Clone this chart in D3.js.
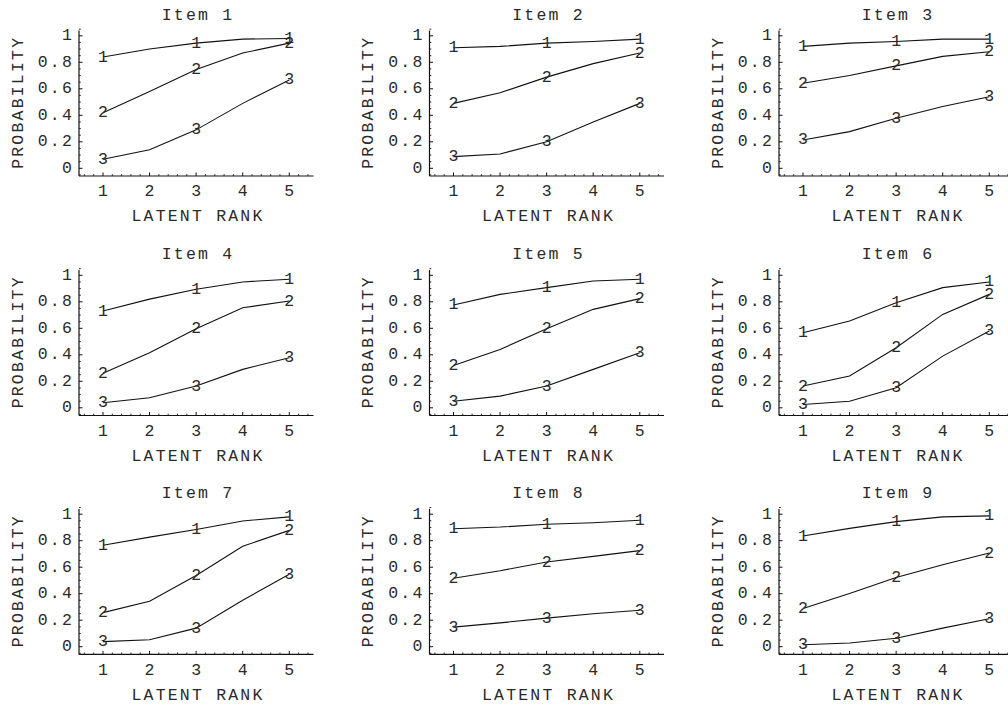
<!DOCTYPE html>
<html>
<head>
<meta charset="utf-8">
<script src="https://cdn.jsdelivr.net/npm/d3@7"></script>
<style>
  html, body { margin: 0; padding: 0; background: #fff; }
  svg { display: block; }
  text { font-family: "Liberation Mono", "Courier New", monospace; fill: #2a2a2a; }
</style>
</head>
<body>
<svg id="chart" width="1008" height="709"></svg>
<script>
// ---- data ----
const ranks = [1, 2, 3, 4, 5];
const itemNames = ["Item 1", "Item 2", "Item 3", "Item 4", "Item 5", "Item 6", "Item 7", "Item 8", "Item 9"];
const categoryLabels = ["1", "2", "3"];
const xTicks = [1, 2, 3, 4, 5];
const yTicks = [0, 0.2, 0.4, 0.6, 0.8, 1];
const yTickLabels = ["0", "0.2", "0.4", "0.6", "0.8", "1"];

const item1 = [[0.84, 0.90, 0.945, 0.975, 0.98], [0.42, 0.58, 0.745, 0.87, 0.945], [0.068, 0.14, 0.29, 0.49, 0.667]];
const item2 = [[0.91, 0.92, 0.945, 0.957, 0.975], [0.49, 0.57, 0.688, 0.79, 0.87], [0.088, 0.108, 0.20, 0.35, 0.49]];
const item3 = [[0.92, 0.945, 0.957, 0.975, 0.975], [0.642, 0.70, 0.773, 0.845, 0.88], [0.214, 0.277, 0.378, 0.466, 0.54]];
const item4 = [[0.73, 0.82, 0.895, 0.95, 0.97], [0.26, 0.415, 0.597, 0.755, 0.806], [0.038, 0.076, 0.164, 0.29, 0.378]];
const item5 = [[0.776, 0.856, 0.907, 0.957, 0.97], [0.32, 0.44, 0.597, 0.743, 0.824], [0.05, 0.088, 0.164, 0.29, 0.416]];
const item6 = [[0.567, 0.655, 0.793, 0.907, 0.95], [0.164, 0.24, 0.453, 0.705, 0.856], [0.025, 0.05, 0.151, 0.39, 0.58]];
const item7 = [[0.766, 0.827, 0.885, 0.949, 0.98], [0.257, 0.343, 0.537, 0.758, 0.878], [0.038, 0.053, 0.14, 0.351, 0.547]];
const item8 = [[0.89, 0.903, 0.924, 0.936, 0.954], [0.517, 0.573, 0.639, 0.682, 0.725], [0.148, 0.18, 0.216, 0.249, 0.275]];
const item9 = [[0.835, 0.893, 0.944, 0.98, 0.987], [0.288, 0.402, 0.522, 0.618, 0.707], [0.015, 0.028, 0.064, 0.14, 0.211]];
const items = [item1, item2, item3, item4, item5, item6, item7, item8, item9];
const labelRanks = [1, 3, 5];

// ---- layout ----
const svg = d3.select("#chart");
const colX0 = [79, 429.5, 779];
const rowZero = [168.3, 407.8, 646.7];
const FS = 16.5, LS = 2.2;

items.forEach((series, idx) => {
  const col = idx % 3, row = Math.floor(idx / 3);
  const x0 = colX0[col];
  const zeroY = rowZero[row];
  const x = d3.scaleLinear().domain([0.485, 5.52]).range([x0, x0 + 234.5]);
  const y = d3.scaleLinear().domain([0, 1]).range([zeroY, zeroY - 132.5]);
  const axisY = zeroY + 7.7;
  const topY = zeroY - 137.8;
  const g = svg.append("g");

  // axes lines
  g.append("line").attr("x1", x0).attr("x2", x0).attr("y1", axisY).attr("y2", topY)
    .attr("stroke", "#111").attr("stroke-width", 1.2);
  g.append("line").attr("x1", x0).attr("x2", x0 + 234.5).attr("y1", axisY).attr("y2", axisY)
    .attr("stroke", "#111").attr("stroke-width", 1.2);

  // minor ticks x
  const xMinor = d3.range(0.6, 5.5, 0.2).filter(v => Math.abs(v - Math.round(v)) > 1e-6);
  g.selectAll(".xm").data(xMinor).join("line")
    .attr("x1", d => x(d)).attr("x2", d => x(d)).attr("y1", axisY).attr("y2", axisY - 1.8)
    .attr("stroke", "#222").attr("stroke-width", 1);
  g.selectAll(".xM").data(xTicks).join("line")
    .attr("x1", d => x(d)).attr("x2", d => x(d)).attr("y1", axisY).attr("y2", axisY - 3.5)
    .attr("stroke", "#111").attr("stroke-width", 1);
  // minor ticks y
  const yMinor = d3.range(-0.05, 1.051, 0.05).filter(v => Math.abs(v * 5 - Math.round(v * 5)) > 1e-6);
  g.selectAll(".ym").data(yMinor).join("line")
    .attr("x1", x0).attr("x2", x0 + 1.8).attr("y1", d => y(d)).attr("y2", d => y(d))
    .attr("stroke", "#222").attr("stroke-width", 1);
  g.selectAll(".yM").data(yTicks).join("line")
    .attr("x1", x0).attr("x2", x0 + 3.5).attr("y1", d => y(d)).attr("y2", d => y(d))
    .attr("stroke", "#111").attr("stroke-width", 1);

  // tick labels
  g.selectAll(".xl").data(xTicks).join("text")
    .attr("x", d => x(d) + LS / 2).attr("y", zeroY + 23.4)
    .attr("text-anchor", "middle").attr("dominant-baseline", "central")
    .attr("font-size", FS).attr("letter-spacing", LS).text(d => d);
  g.selectAll(".yl").data(yTicks).join("text")
    .attr("x", x0 - 5).attr("y", d => y(d))
    .attr("text-anchor", "end").attr("dominant-baseline", "central")
    .attr("font-size", FS).attr("letter-spacing", LS).text((d, i) => yTickLabels[i]);

  // titles
  g.append("text").attr("x", x0 + 119).attr("y", zeroY - 153)
    .attr("text-anchor", "middle").attr("dominant-baseline", "central")
    .attr("font-size", FS).attr("letter-spacing", LS).text(itemNames[idx]);
  g.append("text").attr("x", x0 + 119).attr("y", zeroY + 48.4)
    .attr("text-anchor", "middle").attr("dominant-baseline", "central")
    .attr("font-size", FS).attr("letter-spacing", LS).text("LATENT RANK");
  g.append("text")
    .attr("transform", `translate(${x0 - 61},${zeroY - 66}) rotate(-90)`)
    .attr("text-anchor", "middle").attr("dominant-baseline", "central")
    .attr("font-size", FS).attr("letter-spacing", LS).text("PROBABILITY");

  // lines
  const line = d3.line().x((d, i) => x(ranks[i])).y(d => y(d));
  series.forEach((vals, k) => {
    g.append("path").attr("d", line(vals)).attr("fill", "none")
      .attr("stroke", "#111").attr("stroke-width", 1.1);
    labelRanks.forEach(r => {
      g.append("text").attr("x", x(r)).attr("y", y(vals[r - 1]))
        .attr("text-anchor", "middle").attr("dominant-baseline", "central")
        .attr("font-size", FS).text(categoryLabels[k]);
    });
  });
});
</script>
</body>
</html>
